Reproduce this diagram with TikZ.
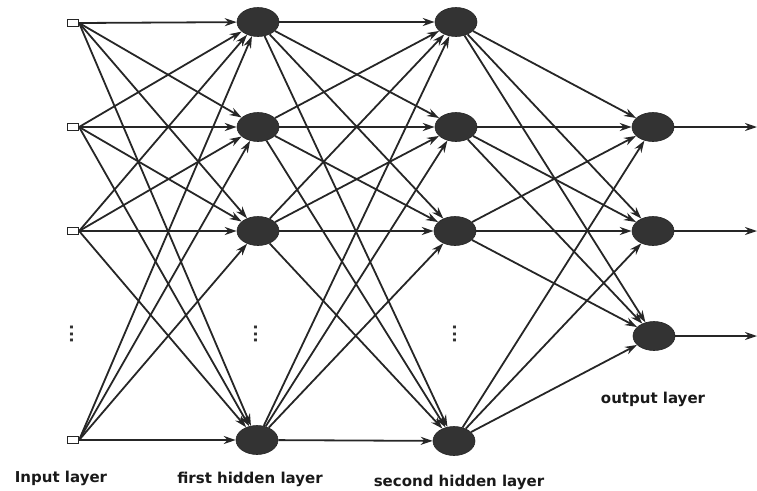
\documentclass[tikz,border=0pt]{standalone}
\usepackage{fontspec}
\setmainfont{DejaVu Sans}
\usetikzlibrary{arrows.meta,shapes.geometric}
\begin{document}
\begin{tikzpicture}[x=1pt,y=-1pt,
  neuron/.style={ellipse,draw=black!85,fill=black!80,line width=0.6pt,minimum width=42pt,minimum height=29pt,inner sep=0pt},
  inbox/.style={rectangle,draw=black!85,fill=white,line width=1.2pt,minimum width=11pt,minimum height=7pt,inner sep=0pt},
  conn/.style={draw=black!85,line width=1.8pt,-{Stealth[length=12pt,width=8pt]}},
  lbl/.style={font=\bfseries\fontsize{15}{17}\selectfont,text=black!90},
  vdots/.style={font=\bfseries\fontsize{16}{16}\selectfont,text=black!80}]
\useasboundingbox (0,0) rectangle (757,490);
% input layer
\node[inbox] (i1) at (73,23) {};
\node[inbox] (i2) at (73,127) {};
\node[inbox] (i3) at (73,231) {};
\node[inbox] (i4) at (73,440) {};
% first hidden
\node[neuron] (a1) at (258,22) {};
\node[neuron] (a2) at (258,127) {};
\node[neuron] (a3) at (258,231) {};
\node[neuron] (a4) at (257,440) {};
% second hidden
\node[neuron] (b1) at (456,22) {};
\node[neuron] (b2) at (456,127) {};
\node[neuron] (b3) at (455,231) {};
\node[neuron] (b4) at (454,441) {};
% output
\node[neuron] (o1) at (653,127) {};
\node[neuron] (o2) at (653,231) {};
\node[neuron] (o3) at (654,336) {};
\coordinate (e1) at (757,127);
\coordinate (e2) at (757,231);
\coordinate (e3) at (757,336);
% dots
\node[vdots] (d1) at (72,334) {\rotatebox{90}{...}};
\node[vdots] (d2) at (256,334) {\rotatebox{90}{...}};
\node[vdots] (d3) at (455,334) {\rotatebox{90}{...}};
% connections input -> hidden1
\foreach \i in {1,2,3,4}{
  \foreach \j in {1,2,3,4}{
    \draw[conn] (i\i.east) -- (a\j);
  }
}
% hidden1 -> hidden2
\foreach \i in {1,2,3,4}{
  \foreach \j in {1,2,3,4}{
    \draw[conn] (a\i) -- (b\j);
  }
}
% hidden2 -> output
\foreach \i in {1,2,3,4}{
  \foreach \j in {1,2,3}{
    \draw[conn] (b\i) -- (o\j);
  }
}
\foreach \j in {1,2,3}{
  \draw[conn] (o\j) -- (e\j);
}
% labels
\node[lbl] (l1) at (61,478) {Input layer};
\node[lbl] (l2) at (250,479) {first hidden layer};
\node[lbl] (l3) at (459,482) {second hidden layer};
\node[lbl] (l4) at (653,399) {output layer};
\end{tikzpicture}
\end{document}
